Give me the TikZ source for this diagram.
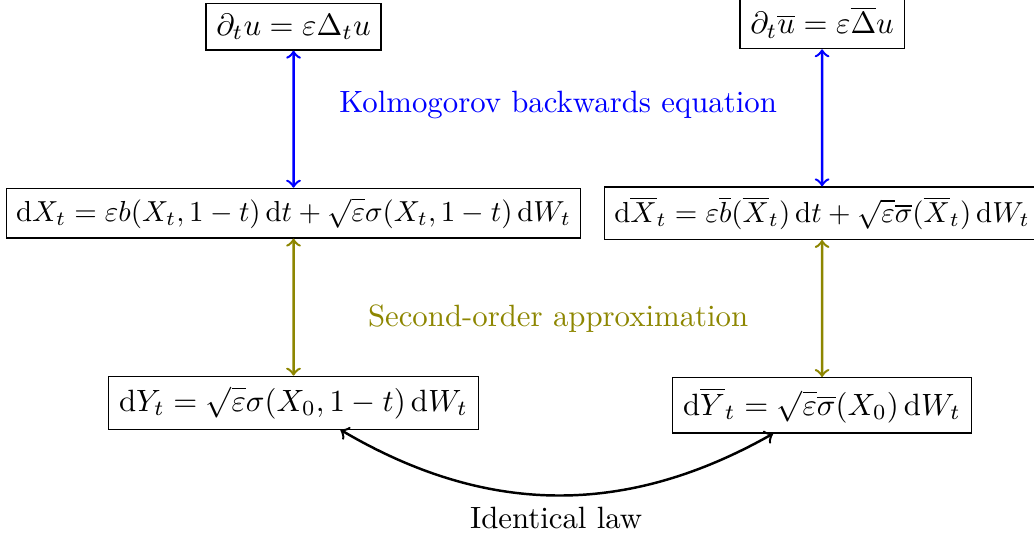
\documentclass[tikz,border=0pt]{standalone}
\usepackage{amsmath,amssymb}
\usepackage{tikz}
\usetikzlibrary{positioning}
\usepackage{xcolor}

\begin{document}
\begin{tikzpicture}[node distance=44.5pt, every node/.style={font=\normalsize}]
  \useasboundingbox (-95.3pt,-105.2pt) rectangle (240.4pt,69.2pt);
  \node[draw, scale=0.94, transform shape] (sde) {$\mathrm{d}X_t = \varepsilon b(X_t,1-t)\,\mathrm{d}t + \sqrt{\varepsilon}\sigma(X_t,1-t)\,\mathrm{d}W_t$};
  \node[draw, scale=0.94, transform shape] (avsde) at (171.6pt,0) {$\mathrm{d}\overline{X}_t = \varepsilon\overline{b}(\overline{X}_t)\,\mathrm{d}t + \sqrt{\varepsilon}\overline{\sigma}(\overline{X}_t)\,\mathrm{d}W_t$};
  \node[draw, above=of sde] (pde) {$\partial_t u = \varepsilon\Delta_t u$};
  \node[draw, above=of avsde] (avpde) {$\partial_t\overline{u} = \varepsilon\overline{\Delta}u$};
  \node[draw, below=of sde] (lin) {$\mathrm{d}Y_t = \sqrt{\varepsilon}\sigma(X_0,1-t)\,\mathrm{d}W_t$};
  \node[draw, below=of avsde] (avlin) {$\mathrm{d}\overline{Y}_t = \sqrt{\varepsilon}\overline{\sigma}(X_0)\,\mathrm{d}W_t$};
  \draw[<->, thick, blue] (pde) -- (sde);
  \draw[<->, thick, blue] (avpde) -- (avsde);
  \draw[<->, thick, olive] (sde) -- (lin);
  \draw[<->, thick, olive] (avsde) -- (avlin);
  \node[blue] (kolm) at (85.9pt,35.1pt) {Kolmogorov backwards equation};
  \node[olive] (approx) at (85.9pt,-34.1pt) {Second-order approximation};
  \draw[<->, thick] (lin.-30) to[bend right=30] node[below] {Identical law} (avlin.210);
\end{tikzpicture}
\end{document}
